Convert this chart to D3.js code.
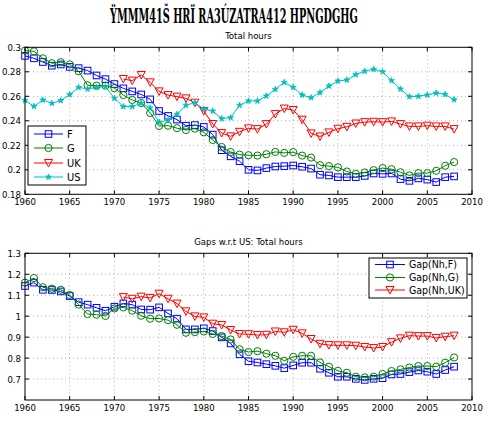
<!DOCTYPE html>
<html><head><meta charset="utf-8">
<script src="https://cdn.jsdelivr.net/npm/d3@7"></script>
<style>
body{margin:0;background:#fff;}
svg text{font-family:"DejaVu Sans Condensed","DejaVu Sans",sans-serif;}
</style></head>
<body><svg id="c" width="488" height="433"></svg>
<script>
const years = d3.range(1960, 2009);
const ukYears = d3.range(1971, 2009);
const F = [0.293,0.291,0.288,0.285,0.286,0.284,0.283,0.281,0.277,0.274,0.270,0.2665,0.264,0.2615,0.2575,0.248,0.244,0.241,0.236,0.2365,0.235,0.2287,0.216,0.211,0.207,0.200,0.1995,0.2014,0.2027,0.203,0.2035,0.2025,0.201,0.196,0.1954,0.194,0.194,0.194,0.195,0.197,0.1967,0.197,0.1924,0.191,0.193,0.192,0.190,0.194,0.1946];
const G = [0.2973,0.2967,0.291,0.287,0.2878,0.286,0.2805,0.269,0.2687,0.2687,0.2667,0.261,0.257,0.2545,0.2464,0.2358,0.236,0.234,0.2325,0.2336,0.2306,0.2243,0.2186,0.2145,0.2124,0.2119,0.2116,0.2127,0.2146,0.2138,0.2144,0.2116,0.210,0.2038,0.203,0.202,0.1986,0.1967,0.1978,0.1997,0.2014,0.2005,0.198,0.1954,0.1973,0.1973,0.1992,0.2033,0.2063];
const UK = [0.2741,0.2728,0.2774,0.2714,0.264,0.261,0.2597,0.2583,0.2548,0.248,0.2374,0.230,0.2273,0.231,0.2338,0.2332,0.2373,0.2455,0.250,0.2488,0.2409,0.2297,0.2272,0.2305,0.2335,0.2351,0.2378,0.2389,0.2392,0.2389,0.2395,0.2373,0.2354,0.2354,0.236,0.2354,0.2354,0.2332];
const US = [0.2567,0.2518,0.257,0.2543,0.2565,0.2614,0.2673,0.266,0.2673,0.2679,0.2584,0.2516,0.2516,0.2543,0.2505,0.2388,0.2407,0.2453,0.2527,0.2548,0.2497,0.248,0.2418,0.2426,0.2527,0.2562,0.2562,0.2603,0.2657,0.2714,0.2673,0.2611,0.2589,0.263,0.2684,0.2725,0.2733,0.2777,0.2805,0.2821,0.280,0.2728,0.266,0.2597,0.26,0.2611,0.2627,0.2616,0.2573];
const gapF = [1.144,1.16,1.126,1.125,1.118,1.096,1.067,1.055,1.04,1.026,1.045,1.061,1.055,1.032,1.031,1.042,1.013,0.988,0.937,0.937,0.942,0.929,0.899,0.870,0.818,0.785,0.779,0.771,0.763,0.752,0.765,0.778,0.778,0.749,0.730,0.711,0.711,0.701,0.696,0.701,0.704,0.722,0.724,0.733,0.741,0.735,0.724,0.743,0.759];
const gapG = [1.16,1.182,1.138,1.131,1.126,1.101,1.055,1.010,1.007,1.001,1.037,1.042,1.026,1.002,0.988,0.989,0.981,0.959,0.921,0.924,0.927,0.915,0.905,0.889,0.842,0.829,0.833,0.821,0.811,0.787,0.806,0.811,0.811,0.779,0.759,0.739,0.730,0.711,0.708,0.711,0.724,0.738,0.746,0.755,0.762,0.762,0.759,0.778,0.803];
const gapUK = [1.091,1.083,1.093,1.087,1.107,1.083,1.06,1.023,0.999,0.994,0.964,0.958,0.934,0.915,0.914,0.910,0.911,0.927,0.923,0.935,0.918,0.891,0.868,0.862,0.861,0.861,0.859,0.853,0.848,0.853,0.876,0.894,0.907,0.905,0.905,0.896,0.902,0.907];
const xTicks = [1960,1965,1970,1975,1980,1985,1990,1995,2000,2005,2010];
const yTicksTop = [0.18,0.2,0.22,0.24,0.26,0.28,0.3];
const yTicksBot = [0.7,0.8,0.9,1,1.1,1.2,1.3];
const mainTitle = "ŸMMM41Š HRÏ RA3ÚZATRA412 HPNGDGHG";
const topTitle = "Total hours";
const botTitle = "Gaps w.r.t US: Total hours";
const topLegend = ["F","G","UK","US"];
const botLegend = ["Gap(Nh,F)","Gap(Nh,G)","Gap(Nh,UK)"];

const svg = d3.select("#c");
const L = 25, R = 472;
const x = d3.scaleLinear().domain([1960,2010]).range([L,R]);

const styles = {
  F:{color:"#0000ff",marker:"square"},
  G:{color:"#008000",marker:"circle"},
  UK:{color:"#ff0000",marker:"tri"},
  US:{color:"#00bfbf",marker:"star"}
};

function drawMarker(g, type, cx, cy, color){
  if(type==="square"){
    g.append("rect").attr("x",cx-3.3).attr("y",cy-3.3).attr("width",6.6).attr("height",6.6)
     .attr("fill","none").attr("stroke",color).attr("stroke-width",1);
  } else if(type==="circle"){
    g.append("circle").attr("cx",cx).attr("cy",cy).attr("r",3.6)
     .attr("fill","none").attr("stroke",color).attr("stroke-width",1);
  } else if(type==="tri"){
    g.append("path").attr("d",`M${cx-4},${cy-3.5}L${cx+4},${cy-3.5}L${cx},${cy+4}Z`)
     .attr("fill","none").attr("stroke",color).attr("stroke-width",1);
  } else if(type==="star"){
    g.append("path").attr("d",d3.symbol(d3.symbolStar,11)()).attr("transform",`translate(${cx},${cy})`)
     .attr("fill",color).attr("stroke",color).attr("stroke-width",0.8);
  }
}

function panel(top, bottom, domain, yTicks, fmt, series, title){
  const y = d3.scaleLinear().domain(domain).range([bottom, top]);
  const g = svg.append("g");
  xTicks.forEach(t=>{ if(t>1960 && t<2010) g.append("line").attr("x1",x(t)).attr("x2",x(t)).attr("y1",top).attr("y2",bottom)
     .attr("stroke","#000").attr("stroke-width",0.6).attr("stroke-dasharray","1,3").attr("opacity",0.55);});
  yTicks.forEach(t=>{ const yy=y(t); if(yy>top+1 && yy<bottom-1) g.append("line").attr("x1",L).attr("x2",R).attr("y1",yy).attr("y2",yy)
     .attr("stroke","#000").attr("stroke-width",0.6).attr("stroke-dasharray","1,3").attr("opacity",0.55);});
  series.forEach(s=>{
    const st = styles[s.key];
    const pts = s.xs.map((yr,i)=>[x(yr), y(s.vals[i])]);
    g.append("path").attr("d",d3.line()(pts)).attr("fill","none").attr("stroke",st.color).attr("stroke-width",1);
    pts.forEach(p=>drawMarker(g, st.marker, p[0], p[1], st.color));
  });
  g.append("rect").attr("x",L).attr("y",top).attr("width",R-L).attr("height",bottom-top)
    .attr("fill","none").attr("stroke","#000").attr("stroke-width",1);
  xTicks.forEach(t=>{
    g.append("line").attr("x1",x(t)).attr("x2",x(t)).attr("y1",bottom).attr("y2",bottom-4).attr("stroke","#000");
    g.append("line").attr("x1",x(t)).attr("x2",x(t)).attr("y1",top).attr("y2",top+4).attr("stroke","#000");
    g.append("text").attr("x",x(t)).attr("y",bottom+11).attr("text-anchor","middle").attr("font-size",9.5).text(t);
  });
  yTicks.forEach(t=>{
    const yy=y(t);
    g.append("line").attr("x1",L).attr("x2",L+4).attr("y1",yy).attr("y2",yy).attr("stroke","#000");
    g.append("line").attr("x1",R).attr("x2",R-4).attr("y1",yy).attr("y2",yy).attr("stroke","#000");
    g.append("text").attr("x",L-4).attr("y",yy+3.5).attr("text-anchor","end").attr("font-size",9.5).text(fmt(t));
  });
  g.append("text").attr("x",(L+R)/2).attr("y",top-8).attr("text-anchor","middle").attr("font-size",9.5).text(title);
  return y;
}

panel(47.3, 194.3, [0.18,0.3], yTicksTop, d=>String(+d.toFixed(2)), [
  {key:"F",xs:years,vals:F},{key:"G",xs:years,vals:G},{key:"UK",xs:ukYears,vals:UK},{key:"US",xs:years,vals:US}
], topTitle);
panel(253.3, 400, [0.6,1.3], yTicksBot, d=>String(+d.toFixed(1)), [
  {key:"F",xs:years,vals:gapF},{key:"G",xs:years,vals:gapG},{key:"UK",xs:ukYears,vals:gapUK}
], botTitle);

(function(){
  const g=svg.append("g");
  g.append("rect").attr("x",28).attr("y",126).attr("width",58).attr("height",59).attr("fill","#fff").attr("stroke","#000");
  const keys=["F","G","UK","US"]; const ys=[134,148,163,177];
  keys.forEach((k,i)=>{
    const st=styles[k];
    g.append("line").attr("x1",34).attr("x2",63).attr("y1",ys[i]).attr("y2",ys[i]).attr("stroke",st.color);
    drawMarker(g,st.marker,48.5,ys[i],st.color);
    g.append("text").attr("x",67).attr("y",ys[i]+4).attr("font-size",11).text(topLegend[i]);
  });
})();
(function(){
  const g=svg.append("g");
  g.append("rect").attr("x",369).attr("y",258).attr("width",98).attr("height",40).attr("fill","#fff").attr("stroke","#000");
  const keys=["F","G","UK"]; const ys=[264.5,277.5,290];
  keys.forEach((k,i)=>{
    const st=styles[k];
    g.append("line").attr("x1",375).attr("x2",405).attr("y1",ys[i]).attr("y2",ys[i]).attr("stroke",st.color);
    drawMarker(g,st.marker,390,ys[i],st.color);
    g.append("text").attr("x",409).attr("y",ys[i]+3.7).attr("font-size",10.5).text(botLegend[i]);
  });
})();

// main title (shown as garbled glyphs in the reference), squeezed to its width
const tg = svg.append("g");
const tt = tg.append("text").attr("x",0).attr("y",0).attr("font-size",21)
  .style("font-family","'DejaVu Serif Condensed','DejaVu Serif',serif").attr("font-weight","bold")
  .text(mainTitle);
const w = tt.node().getComputedTextLength();
tg.attr("transform",`translate(110,23) scale(${248/w},1)`);
</script></body></html>
